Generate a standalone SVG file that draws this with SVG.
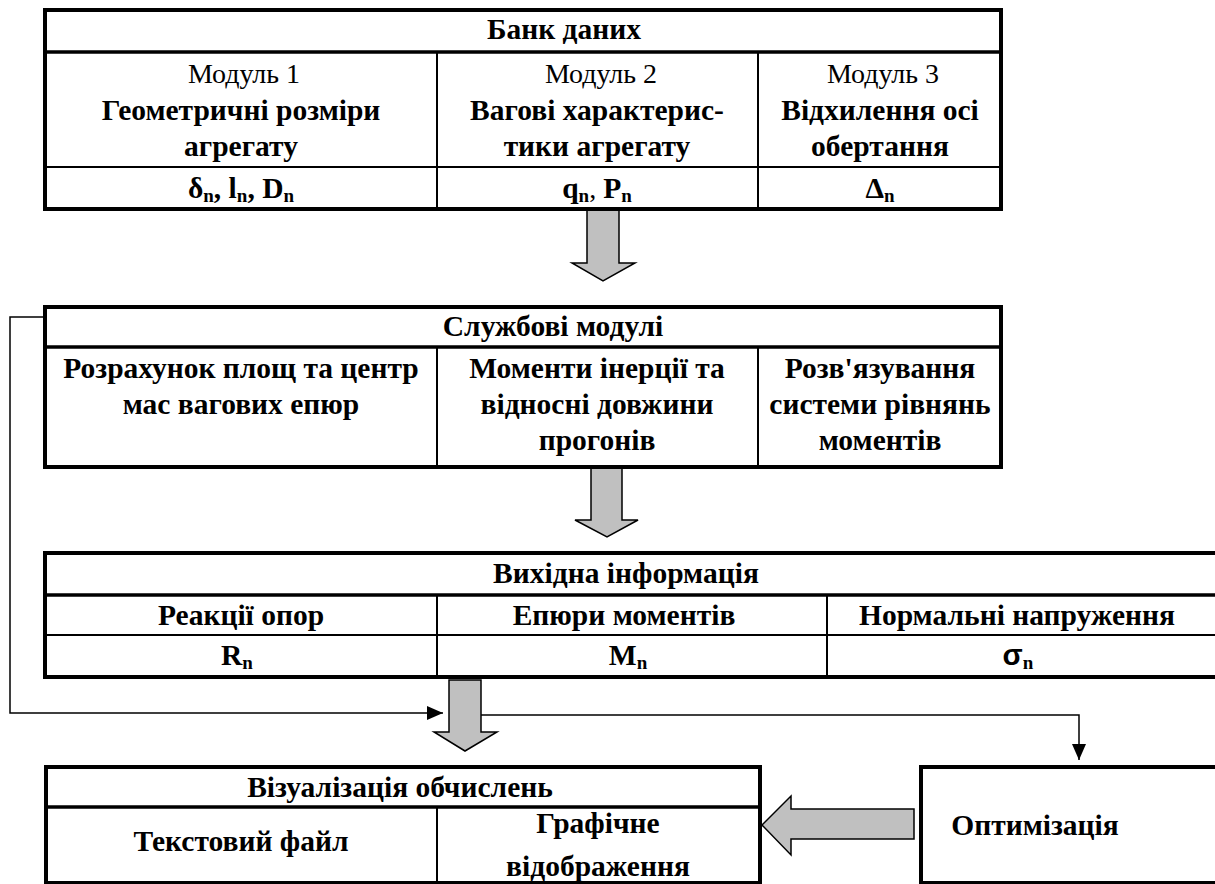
<svg xmlns="http://www.w3.org/2000/svg" width="1215" height="884" viewBox="0 0 1215 884">
<style>
text{font-family:"Liberation Serif","Times New Roman",serif;font-size:29.5px;text-anchor:middle;fill:#000;font-weight:bold}
.reg{font-weight:normal;font-size:28px}
.sub{font-size:19px}
.sans{font-family:"Liberation Sans",Arial,sans-serif}
.outer{fill:#fff;stroke:#000;stroke-width:4}
.thick{stroke:#000;stroke-width:3.5;fill:none}
.thin{stroke:#000;stroke-width:2;fill:none}
.garrow{fill:#c0c0c0;stroke:#000;stroke-width:1.5;stroke-linejoin:miter}
.conn{stroke:#000;stroke-width:1.5;fill:none}
</style>
<defs>
<marker id="ah" viewBox="0 0 16 14" refX="16" refY="7" markerWidth="16" markerHeight="14" markerUnits="userSpaceOnUse" orient="auto">
<path d="M0,0 L16,7 L0,14 Z" fill="#000"/>
</marker>
</defs>

<g id="connectors">
<polyline class="conn" points="50,317 10,317 10,713 443,713" marker-end="url(#ah)"/>
<polyline class="conn" points="481,715 1079,715 1079,760" marker-end="url(#ah)"/>
<polygon class="garrow" points="587,210 619,210 619,263 635,263 603,281 572,263 587,263"/>
<polygon class="garrow" points="591,467 622,467 622,520 638,520 607,537 575,520 591,520"/>
<polygon class="garrow" points="449,680 481,680 481,732 497,732 465,751 434,732 449,732"/>
<polygon class="garrow" points="762,825 791,796 791,809 914,809 914,839 791,839 791,855"/>
</g>

<g id="bank">
<rect class="outer" x="45" y="10" width="956" height="199"/>
<line class="thick" x1="45" y1="52" x2="1001" y2="52"/>
<line class="thin" x1="45" y1="167" x2="1001" y2="167"/>
<line class="thin" x1="437" y1="52" x2="437" y2="209"/>
<line class="thin" x1="758" y1="52" x2="758" y2="209"/>
<text x="564" y="39">Банк даних</text>
<text class="reg" x="244" y="83">Модуль 1</text>
<text x="241" y="120">Геометричні розміри</text>
<text x="241" y="156">агрегату</text>
<text class="reg" x="601" y="83">Модуль 2</text>
<text x="597" y="120">Вагові характерис-</text>
<text x="597" y="156">тики агрегату</text>
<text class="reg" x="883" y="83">Модуль 3</text>
<text x="880" y="120">Відхилення осі</text>
<text x="880" y="156">обертання</text>
<text x="241" y="198">δ<tspan class="sub" dy="4">n</tspan><tspan dy="-4">, l</tspan><tspan class="sub" dy="4">n</tspan><tspan dy="-4">, D</tspan><tspan class="sub" dy="4">n</tspan></text>
<text x="597" y="198">q<tspan class="sub" dy="4">n</tspan><tspan dy="-4" class="reg">, </tspan><tspan>P</tspan><tspan class="sub" dy="4">n</tspan></text>
<text x="880" y="198">Δ<tspan class="sub" dy="4">n</tspan></text>
</g>

<g id="service">
<rect class="outer" x="45" y="307" width="956" height="160"/>
<line class="thick" x1="45" y1="347" x2="1001" y2="347"/>
<line class="thin" x1="437" y1="347" x2="437" y2="467"/>
<line class="thin" x1="758" y1="347" x2="758" y2="467"/>
<text x="553" y="336">Службові модулі</text>
<text x="241" y="378">Розрахунок площ та центр</text>
<text x="241" y="414">мас вагових епюр</text>
<text x="597" y="378">Моменти інерції та</text>
<text x="597" y="414">відносні довжини</text>
<text x="597" y="450">прогонів</text>
<text x="880" y="378">Розв'язування</text>
<text x="880" y="414">системи рівнянь</text>
<text x="880" y="450">моментів</text>
</g>

<g id="output">
<rect class="outer" x="45" y="553" width="1180" height="124"/>
<line class="thick" x1="45" y1="595" x2="1225" y2="595"/>
<line class="thin" x1="45" y1="635" x2="1225" y2="635"/>
<line class="thin" x1="437" y1="595" x2="437" y2="677"/>
<line class="thin" x1="827" y1="595" x2="827" y2="677"/>
<text x="626" y="583">Вихідна інформація</text>
<text x="241" y="625">Реакції опор</text>
<text x="624" y="625">Епюри моментів</text>
<text x="1017" y="625">Нормальні напруження</text>
<text x="237" y="665">R<tspan class="sub" dy="4">n</tspan></text>
<text x="628" y="665">M<tspan class="sub" dy="4">n</tspan></text>
<text x="1018" y="665"><tspan class="sans">σ</tspan><tspan class="sub" dy="4">n</tspan></text>
</g>

<g id="visual">
<rect class="outer" x="46" y="767" width="714" height="116"/>
<line class="thick" x1="46" y1="807" x2="760" y2="807"/>
<line class="thin" x1="437" y1="807" x2="437" y2="883"/>
<text x="400" y="797">Візуалізація обчислень</text>
<text x="241" y="851">Текстовий файл</text>
<text x="598" y="833">Графічне</text>
<text x="598" y="876">відображення</text>
</g>

<g id="optim">
<rect class="outer" x="921" y="767" width="304" height="116"/>
<text x="1035" y="835">Оптимізація</text>
</g>
</svg>
